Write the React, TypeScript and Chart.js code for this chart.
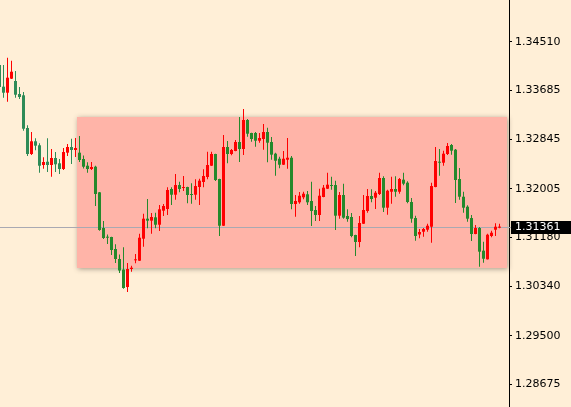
import React, { useEffect, useRef } from 'react';
import { Chart, registerables } from 'chart.js';

Chart.register(...registerables);

// OHLC candles (oldest -> newest)
const OPEN = [
  1.34113, 1.33744, 1.33641, 1.33880, 1.33841, 1.33619, 1.33597, 1.33040, 1.32597, 1.32814,
  1.32746, 1.32410, 1.32466, 1.32410, 1.32529, 1.32439, 1.32342, 1.32620, 1.32717, 1.32666,
  1.32620, 1.32512, 1.32398, 1.32342, 1.32381, 1.31945, 1.31337, 1.31189, 1.31184, 1.30980,
  1.30809, 1.30630, 1.30332, 1.30639, 1.30787, 1.30780, 1.31155, 1.31496, 1.31462, 1.31519,
  1.31393, 1.31632, 1.31661, 1.32001, 1.31904, 1.32069, 1.32018, 1.32035, 1.31916, 1.31904,
  1.32035, 1.32121, 1.32206, 1.32398, 1.32597, 1.32172, 1.31376, 1.32717, 1.32597, 1.32649,
  1.32802, 1.32683, 1.33176, 1.32955, 1.32955, 1.32824, 1.32853, 1.32972, 1.32802, 1.32603,
  1.32517, 1.32415, 1.32500, 1.32534, 1.31746, 1.31775, 1.31860, 1.31911, 1.31797, 1.31644,
  1.31559, 1.31865, 1.32006, 1.32069, 1.32069, 1.31547, 1.31899, 1.31542, 1.31525, 1.31218,
  1.31099, 1.31410, 1.31627, 1.31882, 1.31853, 1.31916, 1.32189, 1.31683, 1.31955, 1.32001,
  1.31955, 1.32160, 1.32109, 1.31780, 1.31507, 1.31227, 1.31274, 1.31308, 1.31359, 1.32035,
  1.32466, 1.32449, 1.32597, 1.32751, 1.32671, 1.32172, 1.31870, 1.31700, 1.31507, 1.31235,
  1.31337, 1.30951, 1.30804, 1.31201, 1.31308, 1.31342,
];
const HIGH = [
  1.34164, 1.34113, 1.34237, 1.34186, 1.34011, 1.33738, 1.33653, 1.33086, 1.32972, 1.32865,
  1.32780, 1.32541, 1.32865, 1.32683, 1.32631, 1.32512, 1.32700, 1.32768, 1.32858, 1.32870,
  1.32904, 1.32572, 1.32456, 1.32461, 1.32398, 1.31950, 1.31456, 1.31227, 1.31190, 1.31060,
  1.30886, 1.31010, 1.30741, 1.30695, 1.30894, 1.31240, 1.31581, 1.31831, 1.31593, 1.31598,
  1.31729, 1.31746, 1.32030, 1.32030, 1.32257, 1.32126, 1.32223, 1.32040, 1.32098, 1.32167,
  1.32177, 1.32337, 1.32637, 1.32637, 1.32602, 1.32177, 1.32921, 1.32819, 1.32683, 1.32836,
  1.33228, 1.33364, 1.33193, 1.32960, 1.32972, 1.32955, 1.33108, 1.33045, 1.32887, 1.32620,
  1.32551, 1.32649, 1.32870, 1.32563, 1.31899, 1.31950, 1.31955, 1.31967, 1.32126, 1.31712,
  1.32006, 1.32069, 1.32279, 1.32211, 1.32143, 1.31950, 1.32092, 1.31656, 1.31593, 1.31223,
  1.31542, 1.31899, 1.32001, 1.31996, 1.31967, 1.32279, 1.32218, 1.31989, 1.32211, 1.32218,
  1.32189, 1.32279, 1.32132, 1.31848, 1.31547, 1.31320, 1.31337, 1.31410, 1.32109, 1.32717,
  1.32683, 1.32654, 1.32785, 1.32768, 1.32683, 1.32359, 1.31955, 1.31724, 1.31559, 1.31388,
  1.31354, 1.31104, 1.31240, 1.31291, 1.31417, 1.31410,
];
const LOW = [
  1.33687, 1.33556, 1.33488, 1.33875, 1.33556, 1.33534, 1.32994, 1.32563, 1.32580, 1.32660,
  1.32279, 1.32347, 1.32291, 1.32211, 1.32291, 1.32257, 1.32325, 1.32563, 1.32427, 1.32546,
  1.32461, 1.32350, 1.32279, 1.32325, 1.31712, 1.31291, 1.31150, 1.31065, 1.30877, 1.30741,
  1.30571, 1.30302, 1.30247, 1.30593, 1.30736, 1.30775, 1.31019, 1.31332, 1.31240, 1.31332,
  1.31286, 1.31542, 1.31559, 1.31729, 1.31819, 1.31945, 1.31967, 1.31758, 1.31751, 1.31819,
  1.31729, 1.32030, 1.32167, 1.32393, 1.32138, 1.31201, 1.31371, 1.32439, 1.32575, 1.32644,
  1.32461, 1.32580, 1.32892, 1.32807, 1.32722, 1.32790, 1.32671, 1.32456, 1.32500, 1.32228,
  1.32354, 1.32410, 1.32347, 1.31656, 1.31530, 1.31751, 1.31826, 1.31729, 1.31371, 1.31456,
  1.31456, 1.31860, 1.32001, 1.31989, 1.31303, 1.31496, 1.31496, 1.31444, 1.31179, 1.30860,
  1.31009, 1.31405, 1.31598, 1.31775, 1.31661, 1.31899, 1.31610, 1.31564, 1.31751, 1.31870,
  1.31921, 1.32064, 1.31758, 1.31427, 1.31121, 1.31162, 1.31189, 1.31274, 1.31087, 1.32030,
  1.32228, 1.32398, 1.32580, 1.32586, 1.31763, 1.31819, 1.31598, 1.31444, 1.31116, 1.31230,
  1.30678, 1.30746, 1.30799, 1.31179, 1.31201, 1.31332,
];
const CLOSE = [
  1.33738, 1.33641, 1.33897, 1.33999, 1.33607, 1.33568, 1.33028, 1.32597, 1.32814, 1.32739,
  1.32398, 1.32461, 1.32410, 1.32529, 1.32422, 1.32342, 1.32631, 1.32717, 1.32666, 1.32700,
  1.32495, 1.32381, 1.32342, 1.32376, 1.31916, 1.31303, 1.31167, 1.31172, 1.30963, 1.30809,
  1.30613, 1.30315, 1.30639, 1.30661, 1.30804, 1.31172, 1.31496, 1.31462, 1.31525, 1.31393,
  1.31656, 1.31712, 1.31984, 1.31904, 1.32069, 1.32001, 1.32035, 1.31899, 1.31899, 1.32052,
  1.32143, 1.32223, 1.32410, 1.32597, 1.32155, 1.31376, 1.32717, 1.32597, 1.32666, 1.32802,
  1.32683, 1.33176, 1.32943, 1.32853, 1.32824, 1.32870, 1.32972, 1.32790, 1.32586, 1.32483,
  1.32415, 1.32517, 1.32534, 1.31746, 1.31797, 1.31887, 1.31921, 1.31775, 1.31627, 1.31559,
  1.31887, 1.32024, 1.32075, 1.32052, 1.31547, 1.31899, 1.31513, 1.31490, 1.31201, 1.31099,
  1.31422, 1.31644, 1.31882, 1.31831, 1.31938, 1.32189, 1.31683, 1.31972, 1.32001, 1.31955,
  1.32172, 1.32092, 1.31780, 1.31496, 1.31201, 1.31269, 1.31320, 1.31376, 1.32052, 1.32478,
  1.32449, 1.32603, 1.32734, 1.32654, 1.32155, 1.31870, 1.31683, 1.31496, 1.31235, 1.31337,
  1.30934, 1.30814, 1.31223, 1.31257, 1.31359, 1.31361,
];

const Y_TICKS = [1.3451, 1.33685, 1.32845, 1.32005, 1.3118, 1.3034, 1.295, 1.28675];
const Y_MIN = 1.28289;
const Y_MAX = 1.3522;
const X_MIN = 0.125;
const X_MAX = 127.375;
const CURRENT_PRICE = 1.31361;
// highlighted range box (bar index span, price span)
const ZONE_START = 19.4;
const ZONE_END = 126.9;
const ZONE_TOP = 1.33233;
const ZONE_BOTTOM = 1.30665;

const BG = '#FFEFD7';
const ZONE_COLOR = '#FFB4A8';
const UP = '#FF0000';
const DOWN = '#2E8B57';
const DOWN_IN_ZONE = '#24892C';
const FONT = '"DejaVu Sans", Verdana, sans-serif';

const candleColor = (i: number) =>
  CLOSE[i] >= OPEN[i] ? UP : i >= ZONE_START ? DOWN_IN_ZONE : DOWN;

export default function App() {
  const ref = useRef<HTMLCanvasElement | null>(null);

  useEffect(() => {
    const canvas = ref.current;
    if (!canvas) return;
    const idx = OPEN.map((_, i) => i);

    const bgPlugin = {
      id: 'bg',
      beforeDraw(chart: any) {
        const { ctx, width, height } = chart;
        ctx.save();
        ctx.fillStyle = BG;
        ctx.fillRect(0, 0, width, height);
        ctx.restore();
      },
    };

    const zonePlugin = {
      id: 'zone',
      beforeDatasetsDraw(chart: any) {
        const { ctx, chartArea, scales } = chart;
        const x0 = scales.x.getPixelForValue(ZONE_START);
        const x1 = scales.x.getPixelForValue(ZONE_END);
        const y0 = scales.y.getPixelForValue(ZONE_TOP);
        const y1 = scales.y.getPixelForValue(ZONE_BOTTOM);
        ctx.save();
        ctx.shadowColor = 'rgba(60,50,40,0.45)';
        ctx.shadowBlur = 5;
        ctx.shadowOffsetX = 1;
        ctx.shadowOffsetY = 1;
        ctx.fillStyle = ZONE_COLOR;
        ctx.fillRect(Math.round(x0), Math.round(y0), Math.round(x1 - x0), Math.round(y1 - y0));
        ctx.restore();
        // current price line
        const py = Math.round(scales.y.getPixelForValue(CURRENT_PRICE)) + 0.5;
        ctx.save();
        ctx.strokeStyle = '#A9A9B2';
        ctx.lineWidth = 1;
        ctx.beginPath();
        ctx.moveTo(chartArea.left, py);
        ctx.lineTo(chartArea.right + 2, py);
        ctx.stroke();
        ctx.restore();
      },
    };

    const pricePlugin = {
      id: 'pricebox',
      afterDraw(chart: any) {
        const { ctx, chartArea, scales, width } = chart;
        const py = Math.round(scales.y.getPixelForValue(CURRENT_PRICE));
        ctx.save();
        ctx.fillStyle = '#000';
        ctx.fillRect(chartArea.right + 2, py - 6, width - chartArea.right - 2, 13);
        ctx.fillStyle = '#FFF';
        ctx.font = '11px ' + FONT;
        ctx.textBaseline = 'middle';
        ctx.textAlign = 'left';
        ctx.fillText(CURRENT_PRICE.toFixed(5), chartArea.right + 6, py + 0.5);
        ctx.restore();
      },
    };

    const chart = new Chart(canvas, {
      type: 'bar',
      data: {
        datasets: [
          {
            label: 'body',
            data: idx.map((i) => ({ x: i, y: [OPEN[i], CLOSE[i]] })) as any,
            backgroundColor: (c: any) => candleColor(c.dataIndex),
            barThickness: 3,
            grouped: false,
            inflateAmount: 0,
            borderWidth: 0,
          } as any,
          {
            label: 'wick',
            data: idx.map((i) => ({ x: i, y: [LOW[i], HIGH[i]] })) as any,
            backgroundColor: (c: any) => candleColor(c.dataIndex),
            barThickness: 1,
            grouped: false,
            inflateAmount: 0,
            borderWidth: 0,
          } as any,
        ],
      },
      options: {
        animation: false,
        responsive: false,
        devicePixelRatio: 1,
        layout: { padding: 0 },
        plugins: { legend: { display: false }, tooltip: { enabled: false } },
        scales: {
          x: {
            type: 'linear',
            display: false,
            min: X_MIN,
            max: X_MAX,
            offset: false,
            bounds: 'data',
          },
          y: {
            type: 'linear',
            position: 'right',
            min: Y_MIN,
            max: Y_MAX,
            bounds: 'data',
            afterBuildTicks: (s: any) => {
              s.ticks = Y_TICKS.map((v) => ({ value: v }));
            },
            afterFit: (s: any) => {
              s.width = 62;
              s.paddingTop = 0;
              s.paddingBottom = 0;
            },
            ticks: {
              color: '#000',
              font: { family: FONT, size: 11 },
              padding: 3,
              autoSkip: false,
              callback: (v: any) => Number(v).toFixed(5),
            },
            grid: {
              display: true,
              drawOnChartArea: false,
              drawTicks: true,
              tickLength: 3,
              color: '#000',
            },
            border: { display: true, color: '#000', width: 1 },
          },
        },
      } as any,
      plugins: [bgPlugin, zonePlugin, pricePlugin],
    });
    return () => chart.destroy();
  }, []);

  return (
    <div style={{ position: 'fixed', left: 0, top: 0, width: 571, height: 407 }}>
      <canvas ref={ref} width={571} height={407} style={{ display: 'block' }} />
    </div>
  );
}
